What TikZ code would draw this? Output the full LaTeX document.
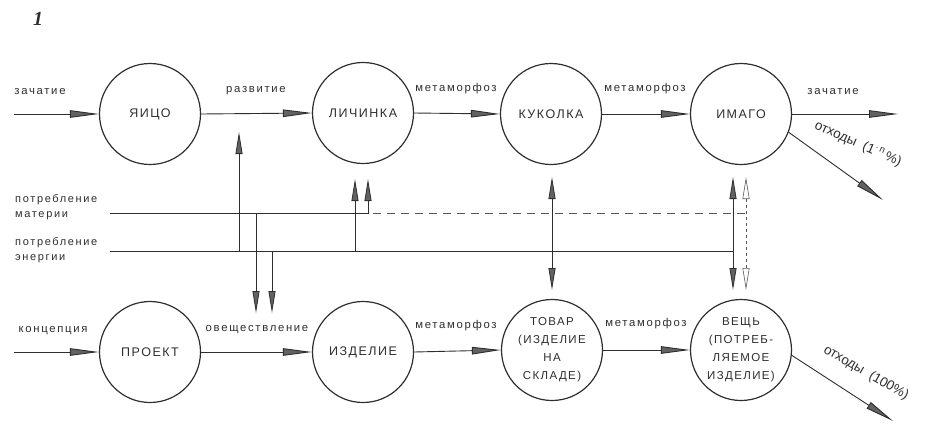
\documentclass[tikz,border=0pt]{standalone}
\usepackage{fontspec}
\setmainfont{Liberation Sans}
\newfontfamily\lblfont[LetterSpace=15]{Liberation Sans}
\newfontfamily\capfont[LetterSpace=12]{Liberation Sans}
\newfontfamily\plainfont{Liberation Sans}
\newfontfamily\numfont{Liberation Serif}
\usetikzlibrary{arrows.meta}
\definecolor{ink}{HTML}{2E2E2E}
\begin{document}
\begin{tikzpicture}[x=1pt,y=-1pt,
  st/.style={circle, draw=ink, line width=1.2pt, minimum size=101pt, inner sep=0pt,
    font=\capfont\fontsize{12.5}{14}\selectfont, text=ink, align=center},
  stm/.style={st, font=\capfont\fontsize{11.5}{18}\selectfont},
  flow/.style={draw=ink, line width=0.9pt, -{Triangle[length=29pt,width=7.5pt,fill=ink!75]}},
  vtip/.style={draw=ink, line width=0.8pt, -{Triangle[length=22pt,width=7pt,fill=ink!75]}},
  vboth/.style={draw=ink, line width=0.8pt, {Triangle[length=22pt,width=7pt,fill=ink!75]}-{Triangle[length=22pt,width=7pt,fill=ink!75]}},
  vdash/.style={draw=ink!80, line width=0.6pt, dashed, {Triangle[open,length=22pt,width=7pt]}-{Triangle[open,length=22pt,width=7pt]}},
  bar/.style={draw=ink, line width=0.8pt},
  lbl/.style={font=\lblfont\fontsize{11.3}{12}\selectfont, text=ink, inner sep=1pt},
  rlbl/.style={font=\plainfont\fontsize{13.5}{15}\selectfont, text=ink, inner sep=1pt},
  side/.style={font=\lblfont\fontsize{11}{15.5}\selectfont, text=ink, align=left, anchor=west, inner sep=0pt}]
\useasboundingbox (0,0) rectangle (925,423);

% figure number
\node[font=\numfont\bfseries\itshape\fontsize{20}{20}\selectfont, text=ink] (num) at (38,19) {1};

% top row
\node[st] (egg)   at (150,114) {ЯИЦО};
\node[st] (larva) at (363,113) {ЛИЧИНКА};
\node[st] (pupa)  at (551,114) {КУКОЛКА};
\node[st] (imago) at (741,114) {ИМАГО};

% bottom row
\node[st]  (proj)  at (150,352) {ПРОЕКТ};
\node[st]  (prod)  at (363,352) {ИЗДЕЛИЕ};
\node[stm] (ware)  at (552,350) {ТОВАР\\(ИЗДЕЛИЕ\\НА\\СКЛАДЕ)};
\node[stm] (thing) at (741,350) {ВЕЩЬ\\(ПОТРЕБ-\\ЛЯЕМОЕ\\ИЗДЕЛИЕ)};

% free ends
\coordinate (inA)  at (14,114);
\coordinate (outA) at (898,114);
\coordinate (wA)   at (883,200);
\coordinate (inB)  at (14,352);
\coordinate (wB)   at (893,421);

% top flow
\draw[flow] (inA) -- (egg.west);
\draw[flow] (egg.east) -- (larva.west);
\draw[flow] (larva.east) -- (pupa.west);
\draw[flow] (pupa.east) -- (imago.west);
\draw[flow] (imago.east) -- (outA);
\draw[flow] (imago.-21) -- (wA);

% bottom flow
\draw[flow] (inB) -- (proj.west);
\draw[flow] (proj.east) -- (prod.west);
\draw[flow] (prod.east) -- (ware.west);
\draw[flow] (ware.east) -- (thing.west);
\draw[flow] (thing.-6) -- (wB);

% top labels
\node[lbl] (lz1) at (40,92)  {зачатие};
\node[lbl] (lr)  at (256,91) {развитие};
\node[lbl] (lm1) at (456,89) {метаморфоз};
\node[lbl] (lm2) at (645,89) {метаморфоз};
\node[lbl] (lz2) at (833,92) {зачатие};
\node[rlbl, rotate=-24] (lw1) at (858,144) {отходы\ \ (1\textsuperscript{·\,n}\,\%)};

% bottom labels
\node[lbl] (lk)  at (53,331)  {концепция};
\node[lbl] (lo)  at (257,330) {овеществление};
\node[lbl] (lm3) at (456,326) {метаморфоз};
\node[lbl] (lm4) at (646,324) {метаморфоз};
\node[rlbl, rotate=-30] (lw2) at (866,373) {отходы\ \ (100\%)};

% side labels
\node[side] (mat) at (15,207) {потребление\\материи};
\node[side] (en)  at (15,250) {потребление\\энергии};

% resource lines
\coordinate (m0) at (110,213);
\coordinate (m1) at (368,213);
\coordinate (m1t) at (368,179);
\coordinate (m2) at (373,213);
\coordinate (m3) at (746,213);
\coordinate (e0) at (110,251);
\coordinate (e1) at (733,251);
\draw[vtip] (m0) -- (m1) -- (m1t);
\draw[draw=ink!80, line width=0.7pt, dash pattern=on 8pt off 6pt] (m2) -- (m3);
\draw[bar] (e0) -- (e1);

% vertical links
\coordinate (a1) at (239,251); \coordinate (a1t) at (239,132);
\coordinate (a2) at (256,213); \coordinate (a2t) at (256,313);
\coordinate (a3) at (272,251); \coordinate (a3t) at (272,313);
\coordinate (a4) at (355,251); \coordinate (a4t) at (355,179);
\draw[vtip] (a1) -- (a1t);
\draw[vtip] (a2) -- (a2t);
\draw[vtip] (a3) -- (a3t);
\draw[vtip] (a4) -- (a4t);

\coordinate (b1) at (552,177); \coordinate (b1b) at (552,290);
\coordinate (b2) at (733,177); \coordinate (b2b) at (733,290);
\coordinate (b3) at (746,177); \coordinate (b3b) at (746,290);
\draw[vboth] (b1) -- (b1b);
\draw[vboth] (b2) -- (b2b);
\draw[vdash] (b3) -- (b3b);
\end{tikzpicture}
\end{document}
